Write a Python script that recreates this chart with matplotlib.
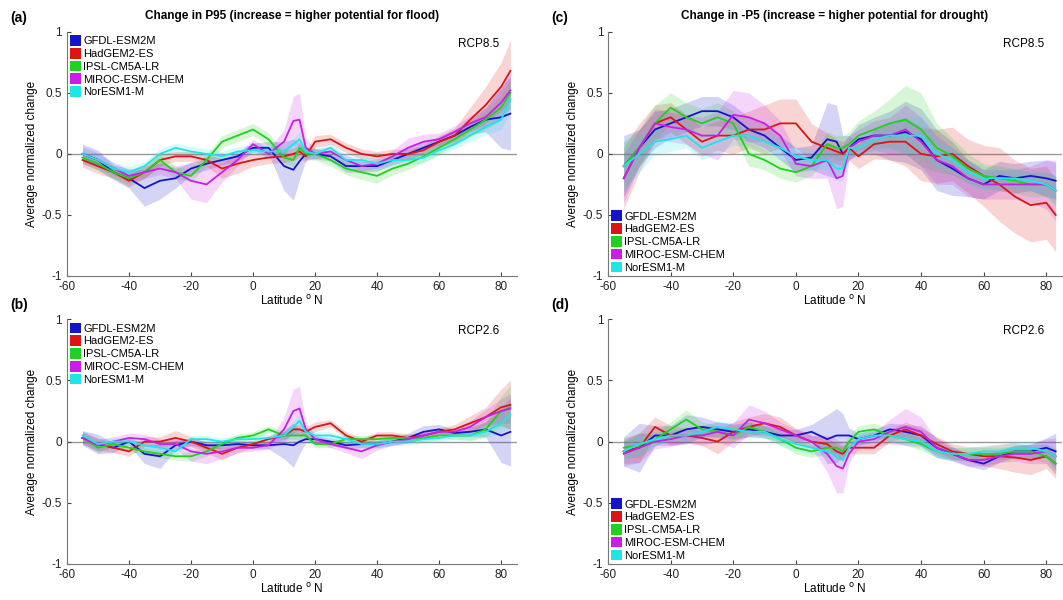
import matplotlib
matplotlib.use("Agg")
import matplotlib.pyplot as plt
from matplotlib.patches import Patch
from matplotlib.ticker import FormatStrFormatter
import numpy as np

# ===== data: latitude grid and model means / half-spreads =====
lat = [-55, -50, -45, -40, -35, -30, -25, -20, -15, -10, -5, 0, 5, 10, 13, 15, 17,
       20, 25, 30, 35, 40, 45, 50, 55, 60, 65, 70, 75, 80, 83]

models = ["GFDL-ESM2M", "HadGEM2-ES", "IPSL-CM5A-LR", "MIROC-ESM-CHEM", "NorESM1-M"]

# (a) P95, RCP8.5
a_mean = [
    [0.0, -0.05, -0.15, -0.2, -0.28, -0.22, -0.2, -0.12, -0.08, -0.05, -0.02, 0.05, 0.05, -0.1, -0.13, -0.06, 0.0,
     0.0, -0.02, -0.1, -0.1, -0.1, -0.05, 0.0, 0.05, 0.1, 0.15, 0.22, 0.28, 0.3, 0.33],
    [-0.05, -0.1, -0.15, -0.22, -0.15, -0.05, -0.02, -0.02, -0.05, -0.12, -0.08, -0.05, -0.03, -0.02, 0.0, 0.02, -0.02,
     0.1, 0.12, 0.05, 0.0, -0.02, 0.0, 0.0, 0.03, 0.1, 0.15, 0.28, 0.4, 0.55, 0.68],
    [-0.03, -0.08, -0.15, -0.2, -0.15, -0.05, -0.15, -0.18, -0.05, 0.1, 0.15, 0.2, 0.12, -0.03, -0.05, 0.05, 0.0,
     0.0, -0.05, -0.12, -0.15, -0.18, -0.12, -0.08, -0.02, 0.05, 0.12, 0.2, 0.28, 0.38, 0.5],
    [0.0, -0.05, -0.12, -0.18, -0.15, -0.12, -0.15, -0.22, -0.25, -0.15, -0.05, 0.08, 0.0, 0.1, 0.27, 0.28, 0.05,
     0.0, 0.02, -0.05, -0.1, -0.08, -0.02, 0.05, 0.1, 0.12, 0.18, 0.25, 0.3, 0.42, 0.52],
    [0.0, -0.05, -0.12, -0.15, -0.1, 0.0, 0.05, 0.02, 0.0, -0.02, 0.02, 0.03, 0.02, 0.02, 0.08, 0.12, 0.02,
     0.0, 0.05, -0.05, -0.05, -0.08, -0.05, -0.05, -0.03, 0.03, 0.08, 0.15, 0.22, 0.28, 0.45],
]
a_sd = [
    [0.08, 0.08, 0.06, 0.08, 0.15, 0.15, 0.08, 0.05, 0.05, 0.04, 0.04, 0.04, 0.05, 0.2, 0.25, 0.15, 0.05,
     0.04, 0.04, 0.05, 0.05, 0.04, 0.04, 0.05, 0.05, 0.04, 0.05, 0.06, 0.1, 0.25, 0.3],
    [0.06, 0.06, 0.05, 0.05, 0.05, 0.05, 0.04, 0.04, 0.05, 0.08, 0.08, 0.05, 0.05, 0.05, 0.05, 0.05, 0.05,
     0.05, 0.04, 0.04, 0.04, 0.04, 0.04, 0.04, 0.04, 0.05, 0.06, 0.1, 0.15, 0.2, 0.25],
    [0.05, 0.05, 0.05, 0.05, 0.05, 0.05, 0.05, 0.05, 0.05, 0.05, 0.05, 0.05, 0.05, 0.05, 0.05, 0.05, 0.05,
     0.05, 0.05, 0.05, 0.06, 0.06, 0.05, 0.05, 0.05, 0.05, 0.05, 0.06, 0.08, 0.1, 0.12],
    [0.06, 0.06, 0.05, 0.05, 0.05, 0.05, 0.05, 0.15, 0.15, 0.08, 0.05, 0.04, 0.04, 0.1, 0.2, 0.22, 0.08,
     0.04, 0.04, 0.04, 0.04, 0.04, 0.05, 0.08, 0.06, 0.05, 0.05, 0.06, 0.08, 0.12, 0.15],
    [0.05, 0.05, 0.05, 0.05, 0.04, 0.04, 0.04, 0.04, 0.04, 0.04, 0.04, 0.04, 0.04, 0.04, 0.05, 0.06, 0.04,
     0.04, 0.04, 0.04, 0.04, 0.04, 0.04, 0.04, 0.04, 0.04, 0.04, 0.05, 0.06, 0.08, 0.1],
]

# (b) P95, RCP2.6
b_mean = [
    [0.03, -0.02, -0.05, 0.0, -0.1, -0.12, -0.03, 0.0, -0.03, -0.03, -0.02, -0.03, -0.03, -0.02, -0.03, 0.0, 0.02,
     0.02, 0.0, -0.03, -0.02, -0.02, 0.0, 0.03, 0.08, 0.1, 0.07, 0.08, 0.1, 0.05, 0.08],
    [0.03, -0.02, -0.05, -0.08, 0.0, 0.0, 0.03, 0.0, -0.05, -0.1, -0.05, -0.02, 0.02, 0.05, 0.1, 0.1, 0.08,
     0.12, 0.15, 0.05, 0.0, 0.05, 0.05, 0.03, 0.05, 0.08, 0.1, 0.15, 0.2, 0.28, 0.3],
    [0.03, -0.05, -0.02, -0.05, -0.08, -0.1, -0.12, -0.12, -0.08, -0.02, 0.03, 0.05, 0.1, 0.05, 0.05, 0.05, 0.05,
     -0.02, -0.02, 0.02, 0.02, 0.02, 0.03, 0.03, 0.03, 0.05, 0.05, 0.05, 0.1, 0.25, 0.28],
    [0.03, -0.03, 0.0, 0.03, 0.02, -0.02, -0.02, -0.08, -0.1, -0.08, -0.05, -0.05, -0.03, 0.1, 0.25, 0.27, 0.1,
     0.02, -0.02, -0.05, -0.08, -0.03, 0.0, 0.02, 0.05, 0.08, 0.08, 0.12, 0.2, 0.25, 0.27],
    [0.05, -0.02, 0.0, 0.0, -0.03, -0.05, -0.08, 0.02, 0.02, 0.0, 0.02, 0.02, 0.03, 0.05, 0.12, 0.17, 0.08,
     0.05, 0.05, 0.02, -0.02, -0.02, 0.0, 0.0, 0.02, 0.03, 0.05, 0.05, 0.08, 0.15, 0.22],
]
b_sd = [
    [0.06, 0.08, 0.04, 0.03, 0.08, 0.1, 0.04, 0.03, 0.03, 0.03, 0.03, 0.03, 0.03, 0.12, 0.18, 0.1, 0.03,
     0.03, 0.03, 0.03, 0.03, 0.03, 0.03, 0.04, 0.05, 0.04, 0.03, 0.04, 0.06, 0.22, 0.28],
    [0.05, 0.05, 0.04, 0.04, 0.04, 0.04, 0.06, 0.04, 0.04, 0.05, 0.04, 0.03, 0.03, 0.03, 0.04, 0.04, 0.04,
     0.04, 0.03, 0.03, 0.03, 0.03, 0.03, 0.03, 0.03, 0.03, 0.04, 0.06, 0.08, 0.15, 0.2],
    [0.04, 0.04, 0.03, 0.03, 0.03, 0.03, 0.03, 0.04, 0.04, 0.03, 0.03, 0.03, 0.03, 0.03, 0.03, 0.03, 0.03,
     0.03, 0.03, 0.03, 0.03, 0.03, 0.03, 0.03, 0.03, 0.03, 0.03, 0.04, 0.06, 0.12, 0.18],
    [0.05, 0.05, 0.04, 0.04, 0.04, 0.04, 0.04, 0.08, 0.08, 0.06, 0.04, 0.03, 0.03, 0.1, 0.18, 0.18, 0.06,
     0.03, 0.03, 0.04, 0.06, 0.04, 0.03, 0.03, 0.03, 0.03, 0.03, 0.05, 0.06, 0.1, 0.12],
    [0.04, 0.04, 0.03, 0.03, 0.03, 0.03, 0.03, 0.03, 0.03, 0.03, 0.03, 0.03, 0.03, 0.03, 0.05, 0.06, 0.04,
     0.03, 0.03, 0.03, 0.03, 0.03, 0.03, 0.03, 0.03, 0.03, 0.03, 0.04, 0.05, 0.08, 0.1],
]

# (c) -P5, RCP8.5
c_mean = [
    [-0.1, 0.05, 0.2, 0.25, 0.3, 0.35, 0.35, 0.3, 0.2, 0.15, 0.05, -0.05, -0.03, 0.12, 0.1, 0.0, 0.05,
     0.12, 0.15, 0.15, 0.18, 0.12, -0.05, -0.12, -0.2, -0.25, -0.18, -0.2, -0.18, -0.2, -0.22],
    [-0.2, 0.05, 0.25, 0.3, 0.2, 0.1, 0.15, 0.15, 0.2, 0.2, 0.25, 0.25, 0.1, 0.05, 0.02, 0.0, 0.05,
     -0.02, 0.08, 0.1, 0.1, 0.0, -0.02, 0.0, -0.1, -0.18, -0.25, -0.35, -0.42, -0.4, -0.5],
    [-0.1, 0.05, 0.25, 0.38, 0.3, 0.25, 0.3, 0.25, 0.0, -0.05, -0.12, -0.15, -0.1, 0.08, 0.05, 0.05, 0.08,
     0.15, 0.2, 0.25, 0.28, 0.2, 0.05, -0.02, -0.12, -0.18, -0.2, -0.22, -0.25, -0.25, -0.3],
    [-0.2, 0.05, 0.25, 0.22, 0.2, 0.15, 0.15, 0.32, 0.3, 0.25, 0.15, -0.08, -0.1, -0.05, -0.2, -0.18, 0.05,
     0.1, 0.15, 0.15, 0.2, 0.1, -0.05, -0.1, -0.2, -0.25, -0.25, -0.25, -0.25, -0.25, -0.3],
    [-0.1, 0.0, 0.1, 0.12, 0.15, 0.05, 0.1, 0.15, 0.15, 0.1, 0.05, -0.02, -0.05, -0.05, -0.12, -0.12, 0.05,
     0.05, 0.12, 0.15, 0.15, 0.15, 0.0, -0.05, -0.15, -0.2, -0.2, -0.2, -0.22, -0.25, -0.3],
]
c_sd = [
    [0.25, 0.15, 0.15, 0.12, 0.12, 0.12, 0.12, 0.1, 0.1, 0.1, 0.1, 0.1, 0.1, 0.3, 0.3, 0.15, 0.1,
     0.12, 0.15, 0.2, 0.25, 0.25, 0.25, 0.22, 0.15, 0.12, 0.12, 0.12, 0.12, 0.15, 0.15],
    [0.25, 0.2, 0.15, 0.12, 0.12, 0.12, 0.12, 0.15, 0.15, 0.2, 0.2, 0.2, 0.15, 0.12, 0.1, 0.1, 0.1,
     0.1, 0.12, 0.15, 0.2, 0.22, 0.22, 0.22, 0.22, 0.25, 0.3, 0.3, 0.3, 0.3, 0.3],
    [0.2, 0.15, 0.15, 0.12, 0.12, 0.12, 0.12, 0.1, 0.1, 0.08, 0.08, 0.08, 0.08, 0.1, 0.1, 0.1, 0.1,
     0.12, 0.15, 0.2, 0.28, 0.3, 0.2, 0.15, 0.12, 0.1, 0.1, 0.1, 0.1, 0.1, 0.12],
    [0.2, 0.15, 0.12, 0.12, 0.12, 0.15, 0.2, 0.2, 0.2, 0.15, 0.12, 0.1, 0.1, 0.15, 0.25, 0.25, 0.1,
     0.1, 0.12, 0.15, 0.2, 0.2, 0.2, 0.15, 0.15, 0.12, 0.12, 0.12, 0.15, 0.2, 0.25],
    [0.2, 0.15, 0.1, 0.1, 0.1, 0.1, 0.1, 0.08, 0.08, 0.08, 0.08, 0.08, 0.08, 0.08, 0.1, 0.1, 0.08,
     0.08, 0.1, 0.12, 0.15, 0.15, 0.12, 0.1, 0.1, 0.1, 0.08, 0.08, 0.08, 0.1, 0.12],
]

# (d) -P5, RCP2.6
d_mean = [
    [-0.08, -0.05, 0.05, 0.05, 0.1, 0.12, 0.1, 0.08, 0.1, 0.08, 0.05, 0.05, 0.08, 0.02, 0.05, 0.05, 0.05,
     0.02, 0.05, 0.1, 0.08, 0.05, -0.05, -0.1, -0.15, -0.18, -0.12, -0.08, -0.08, -0.05, -0.08],
    [-0.08, -0.05, 0.12, 0.05, 0.05, 0.03, 0.0, 0.08, 0.12, 0.15, 0.12, 0.05, 0.0, -0.02, -0.08, -0.1, -0.05,
     -0.05, -0.05, 0.05, 0.1, 0.05, -0.02, -0.08, -0.1, -0.12, -0.12, -0.13, -0.15, -0.12, -0.18],
    [-0.05, -0.03, 0.02, 0.1, 0.18, 0.1, 0.08, 0.05, 0.12, 0.08, 0.02, -0.05, -0.08, -0.05, -0.05, -0.08, 0.0,
     0.08, 0.1, 0.05, 0.02, -0.02, -0.08, -0.1, -0.1, -0.1, -0.1, -0.08, -0.08, -0.12, -0.18],
    [-0.1, -0.05, 0.0, 0.02, 0.05, 0.05, 0.08, 0.05, 0.18, 0.15, 0.1, 0.05, 0.0, -0.1, -0.2, -0.22, -0.1,
     0.0, 0.02, 0.08, 0.12, 0.08, -0.05, -0.1, -0.15, -0.15, -0.12, -0.1, -0.1, -0.08, -0.12],
    [-0.08, -0.02, 0.02, 0.05, 0.05, 0.08, 0.12, 0.1, 0.08, 0.08, 0.02, -0.02, -0.05, -0.08, -0.12, -0.15, -0.05,
     0.02, 0.05, 0.05, 0.02, 0.0, -0.08, -0.1, -0.1, -0.08, -0.08, -0.05, -0.05, -0.08, -0.12],
]
d_sd = [
    [0.12, 0.2, 0.08, 0.08, 0.12, 0.08, 0.06, 0.06, 0.06, 0.05, 0.05, 0.05, 0.06, 0.2, 0.22, 0.18, 0.06,
     0.05, 0.05, 0.05, 0.06, 0.08, 0.08, 0.06, 0.05, 0.05, 0.05, 0.05, 0.06, 0.08, 0.15],
    [0.1, 0.12, 0.08, 0.08, 0.06, 0.06, 0.1, 0.08, 0.08, 0.08, 0.08, 0.06, 0.05, 0.05, 0.06, 0.06, 0.05,
     0.05, 0.05, 0.05, 0.06, 0.06, 0.06, 0.06, 0.06, 0.08, 0.1, 0.12, 0.12, 0.1, 0.12],
    [0.08, 0.1, 0.06, 0.06, 0.08, 0.06, 0.05, 0.05, 0.05, 0.05, 0.05, 0.05, 0.05, 0.05, 0.05, 0.05, 0.05,
     0.05, 0.05, 0.05, 0.05, 0.05, 0.05, 0.05, 0.05, 0.05, 0.05, 0.05, 0.05, 0.06, 0.08],
    [0.1, 0.12, 0.06, 0.06, 0.06, 0.08, 0.08, 0.1, 0.12, 0.1, 0.06, 0.05, 0.05, 0.15, 0.22, 0.2, 0.08,
     0.05, 0.06, 0.1, 0.15, 0.12, 0.06, 0.05, 0.05, 0.05, 0.05, 0.06, 0.08, 0.1, 0.15],
    [0.08, 0.08, 0.05, 0.05, 0.05, 0.05, 0.05, 0.05, 0.05, 0.05, 0.05, 0.05, 0.05, 0.05, 0.06, 0.06, 0.05,
     0.05, 0.05, 0.05, 0.05, 0.05, 0.05, 0.05, 0.05, 0.05, 0.05, 0.05, 0.05, 0.06, 0.08],
]

colors = ["#1414c8", "#dc1414", "#1ed21e", "#c81ee6", "#1ee6e6"]

plt.rcParams["font.sans-serif"] = ["Liberation Sans", "DejaVu Sans"]
plt.rcParams["font.family"] = "sans-serif"
plt.rcParams["axes.unicode_minus"] = False

fig = plt.figure(figsize=(10.63, 6.0), dpi=100)

# [left, bottom, width, height] in figure fraction
panels = [
    ("(a)", a_mean, a_sd, "RCP8.5", [0.063, 0.540, 0.423, 0.407], "upper left",
     "Change in P95 (increase = higher potential for flood)"),
    ("(b)", b_mean, b_sd, "RCP2.6", [0.063, 0.060, 0.423, 0.408], "upper left", None),
    ("(c)", c_mean, c_sd, "RCP8.5", [0.572, 0.540, 0.427, 0.407], "lower left",
     "Change in -P5 (increase = higher potential for drought)"),
    ("(d)", d_mean, d_sd, "RCP2.6", [0.572, 0.060, 0.427, 0.408], "lower left", None),
]

x = np.array(lat)
for tag, means, sds, scen, pos, legloc, title in panels:
    ax = fig.add_axes(pos)
    for m, s, c in zip(means, sds, colors):
        m = np.array(m)
        s = np.array(s)
        ax.fill_between(x, m - s, m + s, color=c, alpha=0.18, linewidth=0)
    for m, c in zip(means, colors):
        ax.plot(x, m, color=c, linewidth=1.3)
    ax.axhline(0, color="#999999", linewidth=1.0, zorder=0.5)

    ax.set_xlim(-60, 85)
    ax.set_ylim(-1, 1)
    ax.set_xticks([-60, -40, -20, 0, 20, 40, 60, 80])
    ax.set_yticks([-1, -0.5, 0, 0.5, 1])
    ax.yaxis.set_major_formatter(FormatStrFormatter("%g"))
    ax.tick_params(direction="in", length=3, labelsize=8.5, colors="#444444", labelcolor="#222222")
    for sp in ["top", "right"]:
        ax.spines[sp].set_visible(False)
    for sp in ["left", "bottom"]:
        ax.spines[sp].set_color("#777777")
        ax.spines[sp].set_linewidth(0.8)

    ax.set_xlabel("Latitude $^{\\rm o}$ N", fontsize=8.5, labelpad=1)
    ax.set_ylabel("Average normalized change", fontsize=8.5, labelpad=3)
    ax.text(0.915, 0.95, scen, transform=ax.transAxes, ha="center", va="center", fontsize=8.5)
    if title:
        ax.set_title(title, fontsize=8.5, fontweight="bold", pad=9)
    fig.text(pos[0] - 0.053, pos[1] + pos[3] + 0.023, tag, fontsize=10, fontweight="bold",
             ha="left", va="center")

    handles = [Patch(facecolor=c, edgecolor="none") for c in colors]
    ax.legend(handles, models, loc=legloc, frameon=False, fontsize=8,
              handlelength=1.0, handleheight=1.1, handletextpad=0.15,
              labelspacing=0.15, borderaxespad=0.2, borderpad=0.1)

fig.savefig("out.png", dpi=100)
